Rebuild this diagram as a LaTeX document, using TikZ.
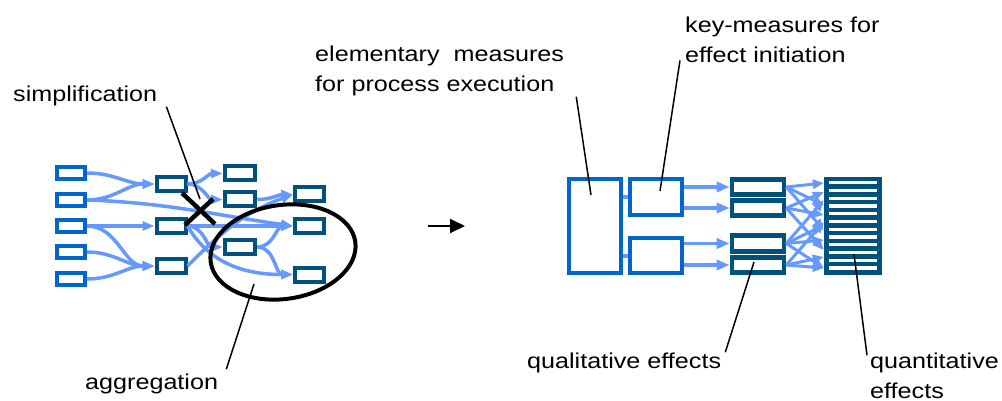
\documentclass[tikz,border=0pt]{standalone}
\usepackage{fontspec}
\setmainfont{Liberation Sans}[FakeStretch=1.17]
\usetikzlibrary{arrows.meta,shapes.geometric}
\definecolor{boxblue}{RGB}{0,102,204}
\definecolor{boxteal}{RGB}{0,82,125}
\definecolor{linkblue}{RGB}{102,153,255}
\begin{document}
\begin{tikzpicture}[x=1pt,y=-1pt,
  lbl/.style={inner sep=0pt, anchor=base west, align=left, font=\fontsize{21.5}{30}\selectfont},
  lbox/.style={draw=boxblue, line width=4pt, minimum width=28pt, minimum height=12.5pt, inner sep=0pt},
  tbox/.style={draw=boxteal, line width=4pt, minimum width=29pt, minimum height=14pt, inner sep=0pt},
  link/.style={draw=linkblue, line width=3.5pt, -{Triangle[length=12pt,width=9pt]}},
  rlink/.style={draw=linkblue, line width=3.8pt, -{Triangle[length=13pt,width=10pt]}},
  qlink/.style={draw=linkblue, line width=3pt, -{Triangle[length=11pt,width=9pt]}},
  pointer/.style={draw=black, line width=1.5pt},
  bigbox/.style={draw=boxblue, line width=4.3pt, minimum width=52pt, minimum height=94pt, inner sep=0pt},
  keybox/.style={draw=boxblue, line width=4.3pt, minimum width=52pt, minimum height=36pt, inner sep=0pt},
  qbox/.style={draw=boxteal, line width=4.6pt, minimum width=52pt, minimum height=15.5pt, inner sep=0pt},
  quantbox/.style={fill=boxteal, minimum width=58pt, minimum height=98pt, inner sep=0pt}]
\useasboundingbox (0,0) rectangle (1002,401);

% ---------- left network ----------
\node[lbox] (L1) at (71,173) {};
\node[lbox] (L2) at (71,200) {};
\node[lbox] (L3) at (71,226) {};
\node[lbox] (L4) at (71,252) {};
\node[lbox] (L5) at (71,279) {};
\node[tbox] (M1) at (171,184) {};
\node[tbox] (M2) at (171,226) {};
\node[tbox] (M3) at (171,266) {};
\node[tbox, minimum width=30.5pt] (E1) at (240,173.5) {};
\node[tbox, minimum width=30.5pt] (E2) at (240,199.5) {};
\node[tbox, minimum width=30.5pt] (E3) at (240,247) {};
\node[tbox] (D1) at (309.5,194.5) {};
\node[tbox] (D2) at (309.5,226) {};
\node[tbox] (D3) at (309.5,274.5) {};

\draw[link] (L1.east) to[out=0,in=180] (M1.west);
\draw[link] (L2.east) to[out=0,in=180] (M1.west);
\draw[link] (L2.east) to[out=-2,in=172] (D2.west);
\draw[link] (L3.east) -- (M2.west);
\draw[link] (L3.east) to[out=0,in=180] (M3.west);
\draw[link] (L4.east) to[out=0,in=180] (M3.west);
\draw[link] (L5.east) to[out=0,in=180] (M3.west);
\draw[link] (M1.east) to[out=0,in=180] (E1.west);
\draw[link] (M1.east) to[out=0,in=180] (E2.west);
\draw[link] (E2.east) to[out=0,in=180] (D1.west);
\draw[link] (M2.east) to[out=0,in=180] (D2.west);
\draw[link] (M2.east) to[out=0,in=180] (E3.west);
\draw[link] (M2.east) to[out=-60,in=180] (D3.west);
\draw[link] (M3.east) to[out=45,in=200] (D1.west);
\draw[link] (E3.east) to[out=0,in=180] (D2.west);
\draw[link] (E3.east) to[out=0,in=180] (D3.west);

\node[draw, ellipse, line width=4pt, minimum width=146pt, minimum height=94pt, rotate=8] (agg) at (283,252) {};

% simplification cross
\draw[line width=4.5pt] (182,193) -- (215,224);
\draw[line width=4.5pt] (185,225) -- (213,199);

% middle arrow
\coordinate (arrS) at (428,226);
\coordinate (arrE) at (465,226);
\draw[line width=2pt, -{Triangle[length=15pt,width=14pt]}] (arrS) -- (arrE);

% ---------- right diagram ----------
\node[bigbox] (Big) at (595,226) {};
\node[keybox] (K1) at (656,197) {};
\node[keybox, minimum height=35pt] (K2) at (656,255.5) {};
\node[qbox] (Q1) at (758,187) {};
\node[qbox] (Q2) at (758,208) {};
\node[qbox] (Q3) at (758,243.5) {};
\node[qbox] (Q4) at (758,265) {};
\node[quantbox] (QB) at (853,226) {};
\foreach \i in {0,...,11}{
  \fill[white] (829,{182.7+7.75*\i-1.6}) rectangle (877,{182.7+7.75*\i+1.6});
}

\draw[draw=linkblue, line width=4pt] (Big.east |- K1.west) -- (K1.west);
\draw[draw=linkblue, line width=4pt] (Big.east |- K2.west) -- (K2.west);
\draw[rlink] (K1.east |- Q1.west) -- (Q1.west);
\draw[rlink] (K1.east |- Q2.west) -- (Q2.west);
\draw[rlink] (K2.east |- Q3.west) -- (Q3.west);
\draw[rlink] (K2.east |- Q4.west) -- (Q4.west);

\draw[qlink] (Q1.east) -- ([yshift=43pt]QB.west);
\draw[qlink] (Q1.east) -- ([yshift=21pt]QB.west);
\draw[qlink] (Q1.east) -- ([yshift=-4pt]QB.west);
\draw[qlink] (Q2.east) -- ([yshift=34pt]QB.west);
\draw[qlink] (Q2.east) -- ([yshift=11pt]QB.west);
\draw[qlink] (Q2.east) -- ([yshift=-24pt]QB.west);
\draw[qlink] (Q3.east) -- ([yshift=26pt]QB.west);
\draw[qlink] (Q3.east) -- ([yshift=1pt]QB.west);
\draw[qlink] (Q3.east) -- ([yshift=-14pt]QB.west);
\draw[qlink] (Q3.east) -- ([yshift=-42pt]QB.west);
\draw[qlink] (Q4.east) -- ([yshift=4pt]QB.west);
\draw[qlink] (Q4.east) -- ([yshift=-31pt]QB.west);
\draw[qlink] (Q4.east) -- ([yshift=-42pt]QB.west);

% ---------- labels ----------
\node[lbl] (simp) at (13,102) {simplification};
\node[lbl] (elem) at (315,92) {elementary\ \ measures\\for process execution};
\node[lbl] (key) at (685,63) {key-measures for\\effect initiation};
\node[lbl] (aggr) at (85,389) {aggregation};
\node[lbl] (qual) at (527,368) {qualitative effects};
\node[lbl] (quantl) at (870,398) {quantitative\\effects};

\coordinate (simpT) at (200,199);
\coordinate (elemT) at (591,195);
\coordinate (keyT) at (660,191);
\coordinate (aggT) at (254,284);
\coordinate (qualT) at (754,262);
\coordinate (quantT) at (854,254);
\draw[pointer] ([xshift=9pt]simp.south east) -- (simpT);
\draw[pointer] ([xshift=12pt]elem.south east) -- (elemT);
\draw[pointer] ([shift={(-5pt,3pt)}]key.south west) -- (keyT);
\draw[pointer] ([shift={(8pt,4pt)}]aggr.north east) -- (aggT);
\draw[pointer] ([xshift=4pt]qual.north east) -- (qualT);
\draw[pointer] ([shift={(-3pt,-3pt)}]quantl.north west) -- (quantT);
\end{tikzpicture}
\end{document}
